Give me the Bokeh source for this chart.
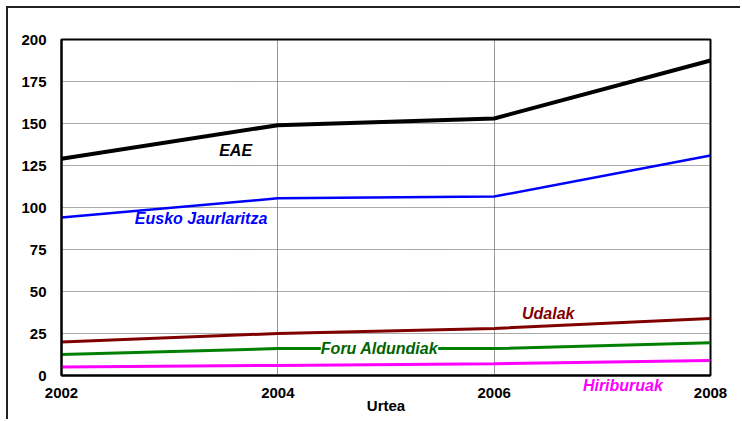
from bokeh.plotting import figure
from bokeh.models import Label, FixedTicker, Range1d, LinearAxis
from bokeh.embed import file_html
from bokeh.resources import INLINE

years = [2002, 2004, 2006, 2008]
eae = [129, 149, 153, 187.5]
eusko = [94, 105.5, 106.5, 131]
udalak = [20, 25, 28, 34]
foru = [12.5, 16, 16, 19.5]
hiriburuak = [5, 6, 7, 9]
y_ticks = [0, 25, 50, 75, 100, 125, 150, 175, 200]

FONT = "Liberation Sans"

p = figure(width=734, height=413, output_backend="svg", toolbar_location=None,
           x_range=Range1d(2002, 2008), y_range=Range1d(0, 200),
           min_border_left=53, min_border_right=32, min_border_top=31, min_border_bottom=46)
p.styles = {"border-top": "2px solid #222", "border-left": "2px solid #222",
            "margin-left": "6px", "margin-top": "6px"}

p.outline_line_color = "black"
p.outline_line_width = 2

p.xaxis.ticker = FixedTicker(ticks=years)
p.yaxis.ticker = FixedTicker(ticks=y_ticks)
for ax in (p.xaxis[0], p.yaxis[0]):
    ax.major_tick_line_color = None
    ax.minor_tick_line_color = None
    ax.axis_line_color = "black"
    ax.axis_line_width = 2
    ax.major_label_text_font = FONT
    ax.major_label_text_font_style = "bold"
    ax.major_label_text_font_size = "15px"
    ax.major_label_text_color = "black"
p.yaxis.major_label_standoff = 9
p.xaxis.major_label_standoff = 6
p.xaxis.axis_label = "Urtea"
p.xaxis.axis_label_text_font = FONT
p.xaxis.axis_label_text_font_style = "bold"
p.xaxis.axis_label_text_font_size = "15px"
p.xaxis.axis_label_text_color = "black"
p.xaxis.axis_label_standoff = -4

# series label that sits below the frame, drawn as an extra axis label
hiri_axis = LinearAxis(ticker=FixedTicker(ticks=[2007.19]),
                       major_label_overrides={2007.19: "Hiriburuak"},
                       axis_line_color=None, major_tick_line_color=None,
                       minor_tick_line_color=None,
                       major_label_text_font=FONT,
                       major_label_text_font_style="bold italic",
                       major_label_text_font_size="16px",
                       major_label_text_color="#FF00FF",
                       major_label_standoff=-46)
p.add_layout(hiri_axis, "below")

p.ygrid.ticker = FixedTicker(ticks=y_ticks[1:-1])
p.ygrid.grid_line_color = "#555555"
p.ygrid.grid_line_dash = "1 1"
p.ygrid.grid_line_width = 1
p.xgrid.ticker = FixedTicker(ticks=years[1:-1])
p.xgrid.grid_line_color = "#333333"
p.xgrid.grid_line_dash = "1 1"
p.xgrid.grid_line_width = 1

p.line(years, hiriburuak, line_color="#FF00FF", line_width=3)
p.line(years, foru, line_color="#008000", line_width=3)
p.line(years, udalak, line_color="#800000", line_width=3)
p.line(years, eusko, line_color="#0000FF", line_width=2.5)
p.line(years, eae, line_color="black", line_width=4)

def lab(x, y, txt, color, bg=None):
    l = Label(x=x, y=y, text=txt, text_color=color, text_font=FONT,
              text_font_style="bold italic", text_font_size="16px",
              text_align="center", text_baseline="middle")
    if bg:
        l.background_fill_color = bg
    p.add_layout(l)

lab(2003.61, 134, "EAE", "black")
lab(2003.29, 93.5, "Eusko Jaurlaritza", "#0000FF")
lab(2006.5, 37, "Udalak", "#800000")
lab(2004.94, 16, "Foru Aldundiak", "#006400", bg="white")

p.add_layout(Label(x=2002, y=200, text="milioi €", text_font=FONT, text_font_style="bold",
                   text_font_size="12px", text_color="black", y_offset=11, x_offset=1,
                   text_baseline="middle"))

open("out.html", "w").write(file_html(p, INLINE))
